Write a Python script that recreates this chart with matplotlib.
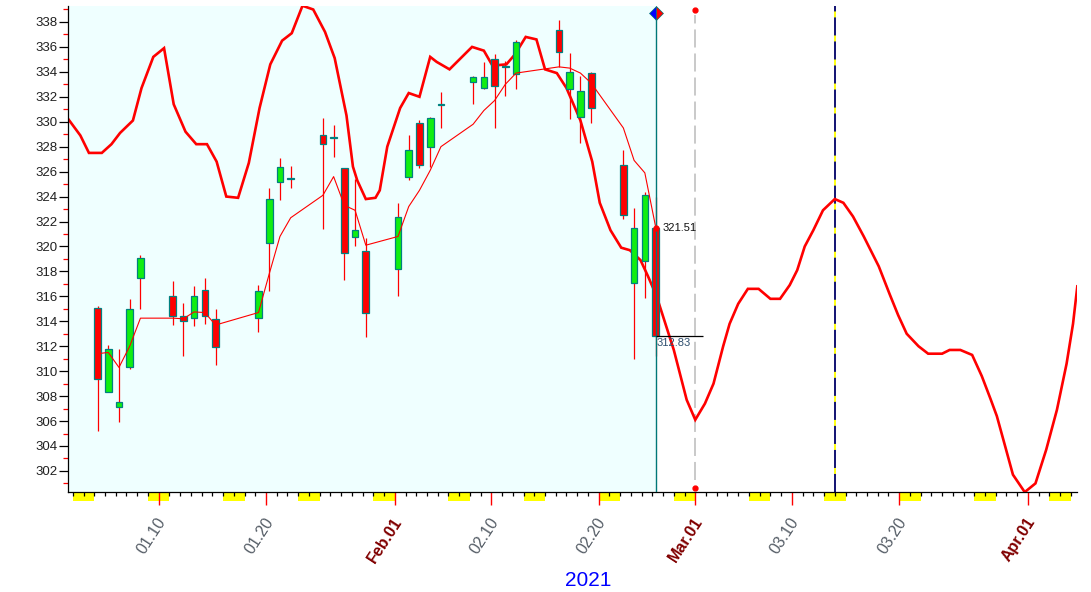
import numpy as np
import matplotlib
matplotlib.use('Agg')
import matplotlib.pyplot as plt
import matplotlib.transforms as mtransforms
from matplotlib.patches import Rectangle
from matplotlib.path import Path

plt.rcParams['font.family'] = ['Liberation Sans', 'DejaVu Sans']
plt.rcParams['lines.scale_dashes'] = False

# daily candles, 2021
dates = ['2021-01-04', '2021-01-05', '2021-01-06', '2021-01-07', '2021-01-08',
         '2021-01-11', '2021-01-12', '2021-01-13', '2021-01-14', '2021-01-15',
         '2021-01-19', '2021-01-20', '2021-01-21', '2021-01-22', '2021-01-25',
         '2021-01-26', '2021-01-27', '2021-01-28', '2021-01-29', '2021-02-01',
         '2021-02-02', '2021-02-03', '2021-02-04', '2021-02-05', '2021-02-08',
         '2021-02-09', '2021-02-10', '2021-02-11', '2021-02-12', '2021-02-16',
         '2021-02-17', '2021-02-18', '2021-02-19', '2021-02-22', '2021-02-23',
         '2021-02-24', '2021-02-25']
opens = [315.1, 308.35, 307.1, 310.3, 317.45, 316.0, 314.45, 314.25, 316.5, 314.15,
         314.3, 320.25, 325.2, 325.45, 328.95, 328.8, 326.25, 320.75, 319.6, 318.2,
         325.55, 329.9, 328.0, 331.35, 333.15, 332.7, 335.0, 334.4, 333.8, 337.35,
         332.6, 330.35, 333.9, 326.5, 317.05, 318.8, 321.51]
highs = [315.2, 312.1, 311.8, 315.8, 319.3, 317.2, 315.5, 316.8, 317.5, 315.0,
         316.9, 324.7, 327.1, 326.45, 330.3, 329.75, 326.3, 325.4, 320.65, 323.5,
         328.9, 330.15, 330.35, 332.4, 333.7, 334.8, 335.4, 334.9, 336.55, 338.15,
         335.55, 333.7, 334.0, 327.7, 323.1, 324.4, 324.0]
lows = [305.2, 308.3, 305.95, 310.2, 315.0, 313.7, 311.2, 313.6, 313.8, 310.5,
        313.1, 316.45, 323.7, 324.7, 321.4, 327.2, 317.3, 320.0, 312.7, 316.0,
        325.3, 326.3, 326.4, 329.5, 331.4, 332.6, 329.5, 332.1, 332.65, 334.4,
        330.2, 328.3, 329.9, 322.2, 310.95, 315.9, 311.2]
closes = [309.4, 311.8, 307.5, 315.0, 319.05, 314.45, 314.0, 316.0, 314.4, 311.9,
          316.4, 323.8, 326.35, 325.4, 328.2, 328.7, 319.5, 321.3, 314.65, 322.4,
          327.7, 326.5, 330.3, 331.4, 333.6, 333.6, 332.85, 334.5, 336.4, 335.6,
          334.0, 332.5, 331.1, 322.5, 321.45, 324.1, 312.83]
avg_line = [311.4, 311.5, 310.3, 312.0, 314.25, 314.25, 314.2, 314.75, 314.7, 313.7,
            314.7, 317.8, 320.8, 322.3, 324.1, 325.6, 323.3, 322.9, 320.1, 320.8,
            323.2, 324.5, 326.1, 328.0, 329.8, 330.9, 331.7, 333.0, 333.9, 334.4,
            334.3, 333.9, 333.1, 329.5, 326.9, 325.9, 321.6]

# cycle line: day of year (0 = Jan 1) and value
cycle_day = [0.5, 1.7, 2.5, 3.7, 4.6, 5.4, 6.6, 7.4, 8.5, 9.5,
             10.4, 11.5, 12.5, 13.5, 14.4, 15.3, 16.4, 17.4, 18.4, 19.4,
             20.5, 21.4, 22.4, 23.4, 24.5, 25.4, 26.5, 27.1, 27.5, 28.3,
             29.2, 29.6, 30.3, 31.5, 32.3, 33.3, 34.3, 34.9, 36.1, 38.2,
             39.3, 40.1, 41.4, 42.2, 43.2, 44.2, 45.0, 46.1, 47.0, 48.3,
             49.4, 50.1, 51.1, 52.1, 52.9, 53.9, 54.6, 55.4, 57.0, 58.2,
             59.0, 59.9, 60.7, 61.6, 62.2, 63.0, 63.9, 64.9, 66.0, 66.9,
             67.8, 68.5, 69.2, 70.0, 70.9, 72.0, 72.8, 73.7, 74.7, 76.1,
             77.1, 77.9, 78.7, 79.8, 80.7, 82.0, 82.7, 83.7, 84.8, 85.7,
             86.5, 87.1, 87.9, 88.6, 89.7, 90.7, 91.7, 92.7, 93.6, 94.2,
             94.6]
cycle_val = [330.3, 328.9, 327.5, 327.5, 328.2, 329.1, 330.1, 332.7, 335.2, 335.9,
             331.4, 329.2, 328.2, 328.2, 326.8, 324.0, 323.9, 326.7, 331.1, 334.6,
             336.5, 337.1, 339.3, 339.0, 337.2, 335.1, 330.5, 326.4, 325.3, 323.8,
             323.9, 324.5, 328.0, 331.1, 332.3, 332.0, 335.2, 334.8, 334.2, 336.0,
             335.7, 334.5, 334.6, 335.4, 336.8, 336.6, 334.2, 333.9, 332.7, 330.1,
             326.8, 323.5, 321.3, 319.9, 319.7, 318.9, 317.6, 316.0, 311.7, 307.7,
             306.1, 307.4, 309.0, 312.0, 313.8, 315.4, 316.6, 316.6, 315.8, 315.8,
             316.9, 318.1, 320.0, 321.3, 322.9, 323.8, 323.5, 322.4, 320.8, 318.4,
             316.2, 314.5, 313.0, 312.0, 311.4, 311.4, 311.7, 311.7, 311.3, 309.6,
             307.8, 306.4, 303.9, 301.7, 300.3, 301.0, 303.7, 306.9, 310.6, 313.8,
             316.8]

tick_days = [9, 19, 31, 40, 50, 59, 68, 78, 90]
tick_labels = ['01.10', '01.20', 'Feb.01', '02.10', '02.20', 'Mar.01', '03.10', '03.20', 'Apr.01']
month_labels = ['Feb.01', 'Mar.01', 'Apr.01']
turn_day = 59      # Mar.01 marker
peak_day = 72      # Mar.14 marker

# ---- figure ----
W, H = 1091, 592
fig = plt.figure(figsize=(W / 100, H / 100), dpi=100)
ax = fig.add_axes([68 / W, 100 / H, (1077 - 68) / W, 486 / H])
x0, x1 = 0.55, 94.57
ax.set_xlim(x0, x1)
ax.set_ylim(300.31, 339.28)
for s in ['top', 'right']:
    ax.spines[s].set_visible(False)
for s in ['left', 'bottom']:
    ax.spines[s].set_linewidth(0.9)

base = np.datetime64('2021-01-01')
cx = np.array([(np.datetime64(d) - base).astype(int) for d in dates]) + 0.3
last_x = cx[-1]

ax.axvspan(x0, last_x, color='#EFFFFF', zorder=0, lw=0)

# cycle line
ax.plot(cycle_day, cycle_val, color='#FF0000', lw=1.9, zorder=2, solid_joinstyle='miter')

# candles
bw = 0.62
for x, o, h, l, c in zip(cx, opens, highs, lows, closes):
    ax.vlines(x, l, h, color='#FF0000', lw=0.9, zorder=3)
    col = '#11EE11' if c >= o else '#FF0000'
    ax.add_patch(Rectangle((x - bw / 2, min(o, c)), bw, abs(c - o), facecolor=col,
                           edgecolor='#008080', lw=0.9, zorder=4))

ax.plot(cx, avg_line, color='#FF0000', lw=0.8, zorder=5)

bt = mtransforms.blended_transform_factory(ax.transData, ax.transAxes)

# last bar marker line
ax.axvline(last_x, ymax=0.985, color='#007878', lw=1.0, zorder=6)
half_r = Path([(0, 1), (1, 0), (0, -1), (0, 1)], [1, 2, 2, 79])
half_l = Path([(0, 1), (-1, 0), (0, -1), (0, 1)], [1, 2, 2, 79])
ax.plot([last_x], [0.985], transform=bt, marker=half_l, ms=10, color='#0000FF',
        mec='#007878', mew=0.5, clip_on=False, zorder=7)
ax.plot([last_x], [0.985], transform=bt, marker=half_r, ms=10, color='#FF0000',
        mec='#007878', mew=0.5, clip_on=False, zorder=7)
ax.plot([last_x], [opens[-1]], 'o', color='#FF0000', ms=3.5, zorder=7)
ax.hlines(closes[-1], last_x, 59.7, color='black', lw=0.9, zorder=6)
ax.annotate(f'{opens[-1]:.2f}', xy=(last_x, opens[-1]), xytext=(7, 0), textcoords='offset pixels',
            va='center', ha='left', fontsize=8, color='#111111')
ax.annotate(f'{closes[-1]:.2f}', xy=(last_x, closes[-1]), xytext=(1, -2), textcoords='offset pixels',
            va='top', ha='left', fontsize=8, color='#2F4F6F')

# Mar.01 gray dashed marker
ax.axvline(turn_day, ymin=0.025, ymax=0.982, color='#C0C0C0', lw=1.2, dashes=(13, 4.3), zorder=1)
ax.plot([turn_day, turn_day], [0.992, 0.008], 'o', transform=bt, color='#FF0000', ms=3.5,
        clip_on=False, zorder=7)

# peak dashed marker
ax.axvline(peak_day, color='#FFFF00', lw=1.3, zorder=1)
ax.axvline(peak_day, color='#000080', lw=1.3, dashes=(13, 4.3), zorder=1)

# x axis: daily ticks, weekend blocks, labels
ax.set_xticks(tick_days)
ax.set_xticks(np.arange(1, 95), minor=True)
ax.tick_params(axis='x', which='major', length=9.4, width=1, color='#FF0000', labelbottom=False)
ax.tick_params(axis='x', which='minor', length=3, width=0.9, color='black')
days = np.arange(0, 95)
for d in days[(days + 4) % 7 == 5]:
    ax.add_patch(Rectangle((d, -9 / 486), 2, 8 / 486, transform=bt, facecolor='#FFFF00',
                           edgecolor='none', clip_on=False, zorder=1))
for d, lbl in zip(tick_days, tick_labels):
    month = lbl in month_labels
    ax.annotate(lbl, xy=(d, 0), xycoords=bt, xytext=(4, -27), textcoords='offset pixels',
                rotation=57, rotation_mode='anchor', ha='right', va='center', fontsize=11.5,
                color='#800000' if month else '#555D66', fontweight='bold' if month else 'normal',
                annotation_clip=False)

# y axis
ax.set_yticks(np.arange(302, 339, 2))
ax.set_yticks(np.arange(301, 340, 2), minor=True)
ax.tick_params(axis='y', which='major', length=6.5, width=0.9, color='black', pad=0.8,
               labelsize=9.5, labelcolor='#202020')
ax.tick_params(axis='y', which='minor', length=3.6, width=0.9, color='#FF0000')

fig.text(588 / W, 1 - 580 / H, '2021', color='#0000FF', fontsize=15, ha='center', va='center')

fig.savefig('out.png', dpi=100, facecolor='white')
